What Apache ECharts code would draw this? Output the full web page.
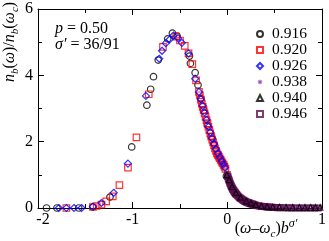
<!DOCTYPE html>
<html><head><meta charset="utf-8">
<script src="https://cdn.jsdelivr.net/npm/echarts@6/dist/echarts.min.js"></script>
<style>html,body{margin:0;padding:0;background:#fff}#c{width:329px;height:241px}</style>
</head><body><div id="c"></div>
<script>
var seriesNames = ['0.916','0.920','0.926','0.938','0.940','0.946'];
var xTicks = [-2,-1,0,1];
var yTicks = [0,2,4,6];
var d916 = [[-1.91,0],[-1.80,0],[-1.57,0],[-1.42,0.03],[-1.24,0.33],[-1.01,1.84],[-0.85,3.10],[-0.81,3.58],[-0.78,3.96],[-0.73,4.46],[-0.63,5.10],[-0.58,5.27],[-0.53,5.18],[-0.40,4.58],[-0.39,4.36],[-0.34,4.08],[-0.31,3.71],[-0.28,3.3],[-0.25,2.95],[-0.21,2.5],[-0.17,2.15],[-0.14,1.92],[-0.10,1.62],[-0.06,1.4],[-0.01,0.96]];
var d920 = [[-1.70,0],[-1.42,0.03],[-1.38,0.06],[-1.33,0.1],[-1.28,0.2],[-1.21,0.35],[-1.14,0.69],[-1.05,1.22],[-0.96,2.13],[-0.83,3.43],[-0.68,4.86],[-0.54,5.17],[-0.50,5.05],[-0.45,4.89],[-0.41,4.66],[-0.37,4.34],[-0.33,3.85],[-0.30,3.5],[-0.29,3.4],[-0.28,3.27],[-0.27,3.15],[-0.26,3.05],[-0.25,2.95],[-0.24,2.85],[-0.23,2.75],[-0.22,2.65],[-0.21,2.55],[-0.20,2.45],[-0.19,2.35],[-0.18,2.25],[-0.17,2.15],[-0.16,2.06],[-0.15,1.98],[-0.14,1.89],[-0.13,1.8],[-0.12,1.72],[-0.11,1.65],[-0.10,1.6],[-0.09,1.55],[-0.08,1.5],[-0.07,1.45],[-0.06,1.4],[-0.05,1.35],[-0.04,1.3],[-0.03,1.25],[-0.02,1.18]];
var d926 = [[-1.78,0],[-1.70,0],[-1.62,0],[-1.54,0],[-1.42,0.04],[-1.33,0.15],[-1.20,0.46],[-1.05,1.34],[-0.86,3.38],[-0.72,4.5],[-0.69,4.74],[-0.65,4.97],[-0.61,5.08],[-0.57,5.20],[-0.52,5.12],[-0.48,4.98],[-0.41,4.66],[-0.34,3.9],[-0.30,3.5],[-0.28,3.28],[-0.26,3.08],[-0.24,2.88],[-0.22,2.66],[-0.20,2.45],[-0.18,2.28],[-0.16,2.1],[-0.14,1.93],[-0.12,1.78],[-0.10,1.65],[-0.08,1.53],[-0.06,1.42],[-0.04,1.32],[-0.025,1.22]];
var d938 = [[-0.01,1.02],[0.005,0.93],[0.015,0.86],[0.025,0.78],[0.035,0.71],[0.045,0.65],[0.055,0.59],[0.065,0.54],[0.075,0.49],[0.085,0.45],[0.095,0.42],[0.105,0.39],[0.115,0.36],[0.125,0.33],[0.135,0.30],[0.145,0.28],[0.155,0.26],[0.165,0.24],[0.175,0.22],[0.185,0.205],[0.195,0.19],[0.21,0.17],[0.23,0.15],[0.25,0.13],[0.27,0.11],[0.29,0.09],[0.31,0.075],[0.33,0.065],[0.35,0.05],[0.38,0.04],[0.40,0.035],[0.45,0.02],[0.52,0.012],[0.58,0.01],[0.64,0.005],[0.71,0],[0.78,0],[0.84,0],[0.91,0],[0.97,0]];
var d940 = [[-0.005,1.0],[0.02,0.85],[0.05,0.64],[0.09,0.46],[0.14,0.32],[0.2,0.21],[0.25,0.15],[0.3,0.1],[0.36,0.06],[0.42,0.04],[0.48,0.03],[0.55,0.025],[0.62,0.02],[0.69,0.02],[0.76,0.02],[0.82,0.02],[0.88,0.02],[0.93,0.02],[0.98,0.02]];
var d946 = [[0,1.0],[0.005,0.95],[0.01,0.9],[0.015,0.86],[0.02,0.82],[0.025,0.78],[0.03,0.74],[0.035,0.70],[0.04,0.67],[0.045,0.64],[0.05,0.61],[0.055,0.585],[0.06,0.56],[0.065,0.535],[0.07,0.51],[0.075,0.49],[0.08,0.47],[0.085,0.45],[0.09,0.43],[0.095,0.415],[0.10,0.40],[0.11,0.37],[0.12,0.34],[0.13,0.31],[0.14,0.29],[0.15,0.27],[0.16,0.25],[0.17,0.23],[0.18,0.21],[0.19,0.2],[0.20,0.18],[0.21,0.17],[0.22,0.16],[0.23,0.15],[0.24,0.14],[0.25,0.13],[0.26,0.12],[0.27,0.11],[0.28,0.1],[0.29,0.09],[0.30,0.08],[0.32,0.07],[0.34,0.06],[0.36,0.05],[0.38,0.045],[0.40,0.04],[0.42,0.03],[0.44,0.025],[0.46,0.02],[0.48,0.018],[0.50,0.015],[0.53,0.012],[0.56,0.01],[0.60,0.008],[0.64,0.005],[0.68,0.003],[0.72,0],[0.76,0],[0.80,0],[0.84,0],[0.88,0],[0.92,0],[0.96,0]];

var FONT = 'Liberation Serif, serif';
var star = 'path://M10,5 L7.03,5.84 L8.54,8.54 L5.84,7.03 L5,10 L4.16,7.03 L1.46,8.54 L2.97,5.84 L0,5 L2.97,4.16 L1.46,1.46 L4.16,2.97 L5,0 L5.84,2.97 L8.54,1.46 L7.03,4.16 Z';
function hollow(name, data, symbol, color, size, z, bw){
  return {type:'scatter', name:name, data:data, symbol:symbol, symbolSize:size, z:z,
    itemStyle:{color:'rgba(255,255,255,0)', borderColor:color, borderWidth:bw||1.2}, emphasis:{disabled:true}};
}
var chart = echarts.init(document.getElementById('c'), null, {renderer:'canvas'});
var axisCommon = {type:'value', splitLine:{show:false},
  axisLine:{show:true, onZero:false, lineStyle:{color:'#000', width:1}},
  axisTick:{show:true, inside:true, length:6, lineStyle:{color:'#000'}},
  minorTick:{show:true, splitNumber:2, length:4, lineStyle:{color:'#000'}},
  axisLabel:{color:'#000', fontFamily:FONT, fontSize:16}};
var rich = {
  i:{fontFamily:FONT, fontStyle:'italic', fontSize:16, lineHeight:22, color:'#000'},
  r:{fontFamily:FONT, fontSize:16, lineHeight:22, color:'#000'},
  sb:{fontFamily:FONT, fontStyle:'italic', fontSize:11, lineHeight:10, verticalAlign:'bottom', color:'#000'},
  sp:{fontFamily:FONT, fontStyle:'italic', fontSize:12, lineHeight:10, verticalAlign:'top', color:'#000'}
};
chart.setOption({
  animation:false,
  grid:{left:38, right:7, top:9, bottom:33},
  xAxis:[
    Object.assign({}, axisCommon, {min:xTicks[0], max:xTicks[xTicks.length-1], interval:1, position:'bottom',
      axisLabel:{color:'#000', fontFamily:FONT, fontSize:16, margin:4,
        formatter:function(v){ return v === xTicks[0] ? '{s|' + v + '}' : '' + v; },
        rich:{s:{fontFamily:FONT, fontSize:16, color:'#000', padding:[0,0,0,10]}}}}),
    Object.assign({}, axisCommon, {min:xTicks[0], max:xTicks[xTicks.length-1], interval:1, position:'top', axisLabel:{show:false}})
  ],
  yAxis:[
    Object.assign({}, axisCommon, {min:yTicks[0], max:yTicks[yTicks.length-1], interval:2, position:'left',
      axisLabel:{color:'#000', fontFamily:FONT, fontSize:16, margin:5}}),
    Object.assign({}, axisCommon, {min:yTicks[0], max:yTicks[yTicks.length-1], interval:2, position:'right', axisLabel:{show:false}})
  ],
  legend:{orient:'vertical', left:251, top:21, itemWidth:6, itemHeight:6, itemGap:0,
    data:seriesNames, selectedMode:false,
    textStyle:{fontFamily:FONT, fontSize:15.5, lineHeight:14, color:'#000', padding:[0,0,0,4]}},
  series:[
    hollow(seriesNames[0], d916, 'circle', '#000000', 6.5, 2),
    hollow(seriesNames[1], d920, 'rect', '#ff0000', 6.5, 3),
    hollow(seriesNames[2], d926, 'diamond', '#0000ff', 7, 4),
    {type:'scatter', name:seriesNames[3], data:d938, symbol:star, symbolSize:7, z:5,
      itemStyle:{color:'#8a1fa8'}, emphasis:{disabled:true}},
    hollow(seriesNames[5], d946, 'rect', '#5e0d52', 5.5, 6, 1.6),
    hollow(seriesNames[4], d940, 'triangle', '#000000', 5.5, 7)
  ],
  graphic:[
    {type:'text', x:10, y:42, rotation:Math.PI/2, z:10,
      style:{text:'{i|n}{sb|b}{r|(}{i|ω}{r|)/}{i|n}{sb|b}{r|(}{i|ω}{sb|c}{r|)}', rich:rich, align:'center', verticalAlign:'middle'}},
    {type:'text', x:266, y:229, z:10,
      style:{text:'{r|(}{i|ω}{r|–}{i|ω}{sb|c}{r|)}{i|b}{sp|σ′}', rich:rich, align:'center', verticalAlign:'middle'}},
    {type:'text', x:55, y:29, z:10,
      style:{text:'{i|p}{r| = 0.50}', rich:rich, align:'left', verticalAlign:'middle'}},
    {type:'text', x:55, y:45, z:10,
      style:{text:'{i|σ′}{r| = 36/91}', rich:rich, align:'left', verticalAlign:'middle'}}
  ]
});
</script></body></html>
